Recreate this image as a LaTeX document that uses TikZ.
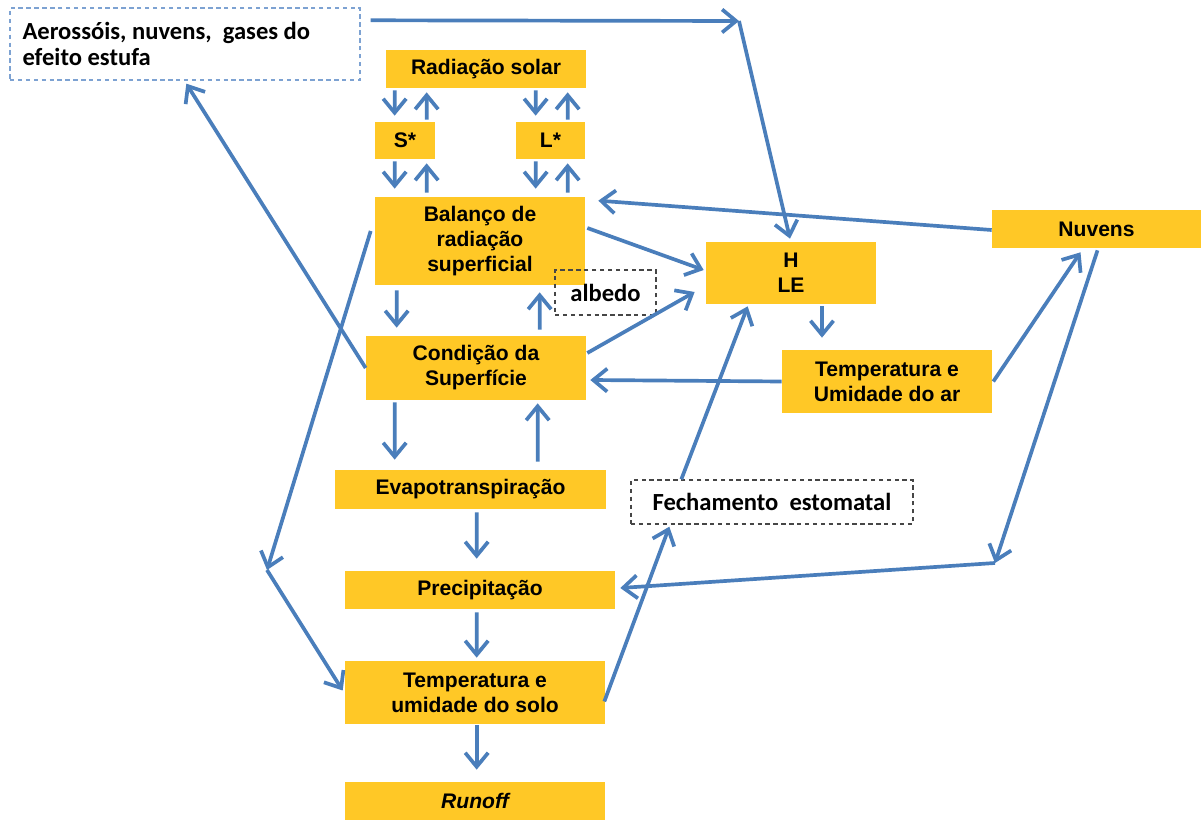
\documentclass[tikz,border=0pt]{standalone}
\usepackage{fontspec}
\setmainfont{Liberation Sans}
\newfontfamily\calfont{Carlito}
\usetikzlibrary{arrows.meta,calc}

\definecolor{boxyellow}{RGB}{255,200,38}
\definecolor{flowblue}{RGB}{74,126,187}
\definecolor{dashblue}{RGB}{125,162,210}
\definecolor{dashgray}{RGB}{70,70,70}

\tikzset{
	box/.style={fill=boxyellow, align=center, inner sep=0pt, font=\fontsize{12}{14.2}\selectfont\bfseries},
	note/.style={draw=dashgray, dash pattern=on 2.5pt off 2pt, line width=0.8pt, inner sep=0pt, font=\calfont\fontsize{14}{15}\selectfont\bfseries},
	flow/.style={draw=flowblue, line width=2.1pt, -{Straight Barb[length=2.8mm,width=4.6mm]}}
}

\begin{document}
\begin{tikzpicture}[x=0.02cm, y=-0.02cm]
	\useasboundingbox (0,0) rectangle (1201,820);
	
	\node[note, draw=dashblue, minimum width=7cm, minimum height=1.44cm, text width=6.5cm, align=flush left] (aer) at (185,44) {Aerossóis, nuvens,\ \ gases do\\efeito estufa};
	\node[box, minimum width=4cm, minimum height=0.76cm] (rad) at (486,69) {Radiação solar};
	\node[box, minimum width=1.2cm, minimum height=0.74cm] (sstar) at (405,140.5) {S*};
	\node[box, minimum width=1.38cm, minimum height=0.74cm] (lstar) at (550.5,140.5) {L*};
	\node[box, minimum width=4.2cm, minimum height=1.76cm] (bal) at (480,241) {Balanço de\\radiação\\superficial};
	\node[note, minimum width=2.02cm, minimum height=0.9cm] (alb) at (605.5,292.5) {albedo};
	\node[box, minimum width=3.4cm, minimum height=1.24cm] (hle) at (791,273) {H\\LE};
	\node[box, minimum width=4.18cm, minimum height=0.76cm] (nuv) at (1096.5,229) {Nuvens};
	\node[box, minimum width=4.4cm, minimum height=1.28cm] (cond) at (476,368) {Condição da\\Superfície};
	\node[box, minimum width=4.2cm, minimum height=1.26cm] (tar) at (887,381.5) {Temperatura e\\Umidade do ar};
	\node[box, minimum width=5.42cm, minimum height=0.78cm] (evap) at (470.5,489.5) {Evapotranspiração};
	\node[note, minimum width=5.64cm, minimum height=0.88cm] (fech) at (772,502) {Fechamento\ \ estomatal};
	\node[box, minimum width=5.4cm, minimum height=0.76cm] (prec) at (480,590) {Precipitação};
	\node[box, minimum width=5.2cm, minimum height=1.26cm] (solo) at (475,692.5) {Temperatura e\\umidade do solo};
	\node[box, minimum width=5.2cm, minimum height=0.76cm] (run) at (475,801) {\itshape Runoff};
	
	% bends of the long connectors
	\coordinate (c1) at (739,21);
	\coordinate (c2) at (995,563);
	\coordinate (c3) at (267,570);
	
	% radiation exchange
	\draw[flow] ($(rad.south west)+(9,2)$) -- ($(sstar.north west)+(20,-6)$);
	\draw[flow] ($(sstar.north west)+(52,-2)$) -- ($(rad.south west)+(41,4)$);
	\draw[flow] ($(rad.south west)+(150,2)$) -- ($(lstar.north west)+(20,-6)$);
	\draw[flow] ($(lstar.north west)+(52,-2)$) -- ($(rad.south west)+(182,4)$);
	\draw[flow] ($(sstar.south west)+(20,2)$) -- ($(bal.north west)+(20,-8)$);
	\draw[flow] ($(bal.north west)+(52,-4)$) -- ($(sstar.south west)+(52,4)$);
	\draw[flow] ($(lstar.south west)+(20,2)$) -- ($(bal.north west)+(161,-8)$);
	\draw[flow] ($(bal.north west)+(193,-4)$) -- ($(lstar.south west)+(52,4)$);
	
	% central column
	\draw[flow] ($(bal.south west)+(22,5)$) -- ($(cond.north west)+(31,-8)$);
	\draw[flow] ($(cond.north west)+(174,-6)$) -- ($(bal.south west)+(165,7)$);
	\draw[flow] ($(cond.south west)+(29,2)$) -- ($(evap.north west)+(60,-10)$);
	\draw[flow] ($(evap.north west)+(203,-8)$) -- ($(cond.south west)+(172,3)$);
	\draw[flow] ($(evap.south west)+(142,3)$) -- ($(prec.north west)+(132,-12)$);
	\draw[flow] ($(prec.south west)+(132,3)$) -- ($(solo.north west)+(132,-3)$);
	\draw[flow] ($(solo.south west)+(132,1)$) -- ($(run.north west)+(132,-12)$);
	
	% feedbacks
	\draw[flow] ($(aer.north east)+(10,13)$) -- (c1);
	\draw[flow] (c1) -- ($(hle.north)+(-1,-3)$);
	\draw[flow] ($(nuv.west)+(0,1)$) -- ($(bal.north east)+(13,4)$);
	\draw[flow] ($(bal.east)+(2,-13)$) -- ($(hle.west)+(-2,-3)$);
	\draw[flow] ($(cond.east)+(1,-15)$) -- ($(hle.west)+(-11,19)$);
	\draw[flow] ($(hle.south)+(31,2)$) -- ($(tar.north)+(-65,-12)$);
	\draw[flow] (tar.west) -- ($(cond.east)+(4,12)$);
	\draw[flow] ($(tar.east)+(1,0)$) -- ($(nuv.south)+(-16,4)$);
	\draw[flow] ($(nuv.south)+(1,2)$) -- (c2);
	\draw[flow] (c2) -- ($(prec.east)+(5,-2)$);
	\draw[flow] ($(fech.north west)+(51,0)$) -- ($(hle.south west)+(42,2)$);
	\draw[flow] ($(solo.east)+(-1,9)$) -- ($(fech.south west)+(39,2)$);
	\draw[flow] (cond.west) -- ($(aer.south west)+(177,3)$);
	\draw[flow] ($(bal.west)+(-4,-10)$) -- (c3);
	\draw[flow] (c3) -- ($(solo.west)+(-2,-2)$);
\end{tikzpicture}
\end{document}
